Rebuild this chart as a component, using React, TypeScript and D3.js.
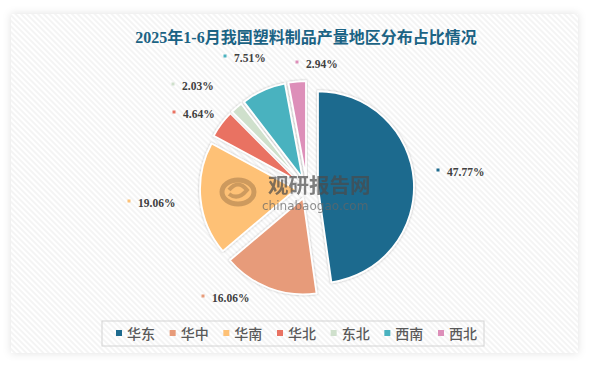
import * as d3 from 'd3';

// chart data
const regions = ['华东', '华中', '华南', '华北', '东北', '西南', '西北'];
const shares = [47.77, 16.06, 19.06, 4.64, 2.03, 7.51, 2.94];
const colors = ['#1D6A8E', '#E79B7A', '#FEC176', '#E97262', '#CFE0CC', '#4AB2BF', '#DD8FB9'];
const title = '2025年1-6月我国塑料制品产量地区分布占比情况';

// layout (Excel "best fit" label spots, marker position)
const labelAt: [number, number][] = [
  [438, 170], [203, 296], [129, 201], [174, 112], [173, 84], [225, 56], [297, 62],
];

const W = 589;
const H = 367;
const cx = 307;
const cy = 188;
const R = 96;
const explode = 11;

const App = () => {
  const pie = d3.pie<number>().sort(null).value(d => d);
  const arcs = pie(shares);
  const arc = d3.arc<d3.PieArcDatum<number>>().innerRadius(0).outerRadius(R);

  const legendX = d3.scaleLinear().domain([0, regions.length - 1]).range([116, 438]);

  return (
    <svg width={W} height={H} style={{ position: 'absolute', left: 0, top: 0, display: 'block' }}>
      <defs>
        <pattern id="hatch" patternUnits="userSpaceOnUse" width="4" height="4" patternTransform="rotate(-45)">
          <rect width="4" height="4" fill="#ffffff" />
          <line x1="1" y1="0" x2="1" y2="4" stroke="#eeeeee" strokeWidth="1.2" />
        </pattern>
        <filter id="cardShadow" x="-5%" y="-5%" width="110%" height="110%">
          <feDropShadow dx="0" dy="0" stdDeviation="4" floodColor="#000" floodOpacity="0.12" />
        </filter>
        <filter id="sliceShadow" x="-10%" y="-10%" width="120%" height="120%">
          <feDropShadow dx="0" dy="0" stdDeviation="1.2" floodColor="#000" floodOpacity="0.3" />
        </filter>
      </defs>

      <rect width={W} height={H} fill="#ffffff" />
      <rect x={11} y={14} width={567} height={339} fill="url(#hatch)" filter="url(#cardShadow)" />

      <text x={306} y={37} textAnchor="middle" dominantBaseline="central"
        fontFamily="'Liberation Serif', 'Noto Sans CJK SC', serif" fontWeight="bold" fontSize={16} fill="#1B6384">
        {title}
      </text>

      <g transform={`translate(${cx},${cy})`}>
        {arcs.map((a, i) => {
          const mid = (a.startAngle + a.endAngle) / 2;
          const dx = Math.sin(mid) * explode;
          const dy = -Math.cos(mid) * explode;
          return (
            <path key={regions[i]} d={arc(a) || ''} transform={`translate(${dx},${dy})`}
              fill={colors[i]} stroke="#ffffff" strokeWidth={1.8} strokeLinejoin="round"
              filter="url(#sliceShadow)" />
          );
        })}
      </g>

      {/* watermark, drawn over the pie */}
      <g opacity={0.7}>
        <ellipse cx={238} cy={192} rx={16} ry={12} fill="none" stroke="#B98A55" strokeWidth={5} />
        <path d="M229,190 Q238,179 247,190 Q238,201 229,194" fill="none" stroke="#B98A55" strokeWidth={4} />
        <text x={268} y={184} dominantBaseline="central" fontFamily="'Noto Sans CJK SC', sans-serif"
          fontWeight="bold" fontSize={20.5} fill="#4a4a4a">观研报告网</text>
        <text x={262} y={206} dominantBaseline="central" fontFamily="'DejaVu Sans', sans-serif"
          fontSize={12} fill="#666666">chinabaogao.com</text>
      </g>

      {arcs.map((a, i) => (
        <g key={'lbl' + i} transform={`translate(${labelAt[i][0]},${labelAt[i][1]})`}>
          <rect x={-1.5} y={-1.5} width={3} height={3} fill={colors[i]} />
          <text x={9} y={1.5} dominantBaseline="central" fontFamily="'Liberation Serif', serif"
            fontWeight="bold" fontSize={11.5} fill="#404040">
            {shares[i].toFixed(2) + '%'}
          </text>
        </g>
      ))}

      {/* legend */}
      <rect x={102} y={321} width={382} height={25} fill="none" stroke="#d4d4d4" strokeWidth={1} />
      {regions.map((r, i) => (
        <g key={'lg' + r} transform={`translate(${legendX(i)},333)`}>
          <rect x={0} y={-3} width={6} height={6} fill={colors[i]} />
          <text x={11} y={0} dominantBaseline="central" fontFamily="'Noto Sans CJK SC', sans-serif"
            fontWeight={500} fontSize={14} fill="#595959">{r}</text>
        </g>
      ))}
    </svg>
  );
};

export default App;
